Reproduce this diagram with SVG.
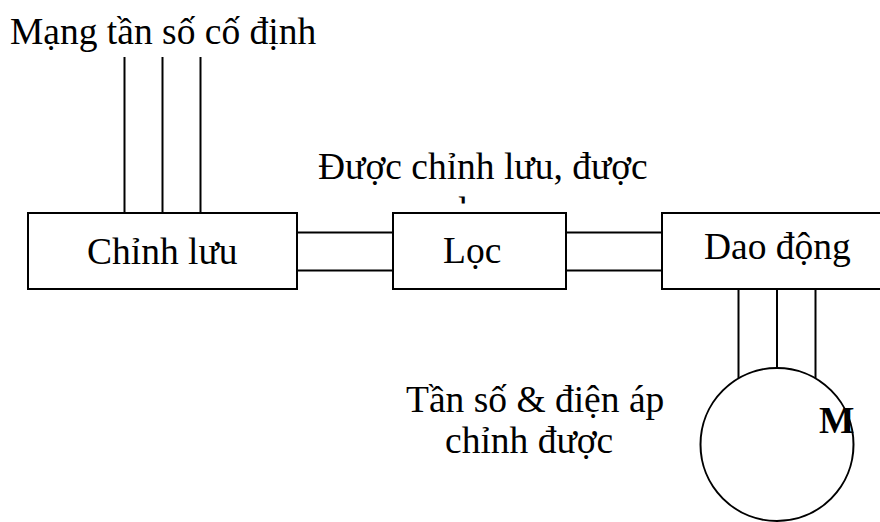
<svg xmlns="http://www.w3.org/2000/svg" width="880" height="522" viewBox="0 0 880 522">
<style>
.t{font-family:"Liberation Serif","Times New Roman",serif;font-size:37.5px;fill:#000}
.b{fill:#fff;stroke:#000;stroke-width:2}
.c{stroke:#000;stroke-width:2;fill:none}
</style>
<defs>
<clipPath id="clipTop"><rect x="300" y="140" width="360" height="63.5"/></clipPath>
</defs>
<rect width="880" height="522" fill="#fff"/>
<text class="t" x="10" y="44">Mạng tần số cố định</text>
<g clip-path="url(#clipTop)">
<text class="t" x="318" y="179">Được chỉnh lưu, được</text>
<text class="t" x="458" y="223">lọc</text>
</g>
<g id="connectors">
<line class="c" x1="124.5" y1="57" x2="124.5" y2="213"/>
<line class="c" x1="162.5" y1="57" x2="162.5" y2="213"/>
<line class="c" x1="200.5" y1="57" x2="200.5" y2="213"/>
<line class="c" x1="297" y1="232.5" x2="393" y2="232.5"/>
<line class="c" x1="297" y1="270.5" x2="393" y2="270.5"/>
<line class="c" x1="566" y1="232.5" x2="662" y2="232.5"/>
<line class="c" x1="566" y1="270.5" x2="662" y2="270.5"/>
<line class="c" x1="738.5" y1="289" x2="738.5" y2="378"/>
<line class="c" x1="777" y1="289" x2="777" y2="368"/>
<line class="c" x1="815.5" y1="289" x2="815.5" y2="378"/>
</g>
<g id="chinhluu">
<rect class="b" x="28" y="213" width="269" height="76"/>
<text class="t" x="87" y="264">Chỉnh lưu</text>
</g>
<g id="loc">
<rect class="b" x="393" y="213" width="173" height="76"/>
<text class="t" x="443" y="263">Lọc</text>
</g>
<g id="daodong">
<rect class="b" x="662" y="213" width="222" height="76"/>
<text class="t" x="704" y="259">Dao động</text>
</g>
<g id="motor">
<circle class="c" cx="777" cy="444.5" r="76.5"/>
<text class="t" x="819" y="433" font-weight="bold">M</text>
</g>
<text class="t" x="406" y="412">Tần số &amp; điện áp</text>
<text class="t" x="445" y="453">chỉnh được</text>
</svg>
